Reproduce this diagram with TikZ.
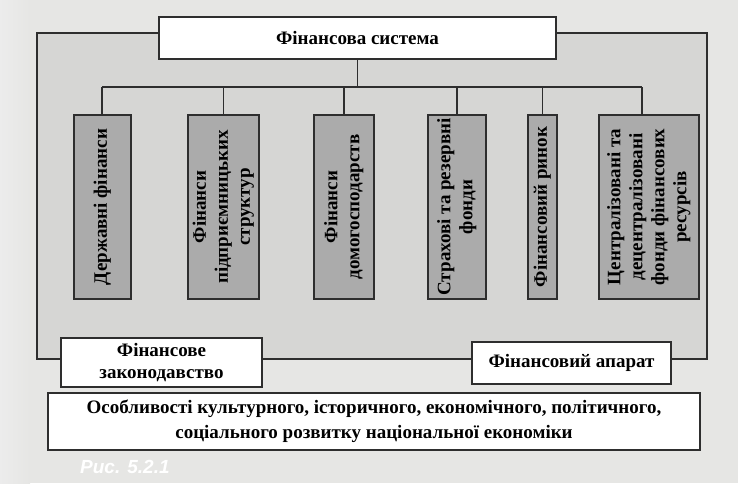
\documentclass[tikz,border=0pt]{standalone}
\usepackage{fontspec}
\usepackage{graphicx}
\setmainfont{Liberation Serif}
\newfontfamily\capfont{Liberation Sans}
\definecolor{pagebg}{HTML}{E6E6E4}
\definecolor{outerbg}{HTML}{D6D6D4}
\definecolor{colbg}{HTML}{ABABAB}
\definecolor{ink}{HTML}{2E2E2E}
\tikzset{
  every node/.style={font=\bfseries\fontsize{19}{22}\selectfont},
  whitebox/.style={draw=ink, line width=1.2pt, fill=white, inner sep=0pt, align=center},
  colbox/.style={draw=ink, line width=1.2pt, fill=colbg, inner sep=0pt, minimum height=184pt},
  conn/.style={draw=ink, line width=1.2pt},
}
\newcommand{\vtext}[1]{\rotatebox{90}{\begin{tabular}{@{}c@{}}#1\end{tabular}}}
\begin{document}
\begin{tikzpicture}[x=1pt,y=-1pt]
\useasboundingbox (0,0) rectangle (738,483);
\fill[pagebg] (0,0) rectangle (738,483);
\shade[left color=white!85!gray, right color=pagebg] (0,0) rectangle (30,483);
% outer region
\node[draw=ink, line width=1.2pt, fill=outerbg, minimum width=670pt, minimum height=326pt, inner sep=0pt] (outer) at (372,196) {};
% top box
\node[whitebox, minimum width=397pt, minimum height=42pt] (top) at (357.5,38) {Фінансова система};
% bus
\coordinate (busL) at (102,87);
\coordinate (busR) at (642,87);
\draw[conn] (busL) -- (busR);
\draw[conn] (top.south) -- (top.south |- busL);
% column boxes
\node[colbox, minimum width=57pt] (b1) at (102.5,207) {\vtext{Державні фінанси}};
\node[colbox, minimum width=71pt] (b2) at (223.5,207) {\vtext{Фінанси\\підприємницьких\\структур}};
\node[colbox, minimum width=60pt] (b3) at (344,207) {\vtext{Фінанси\\домогосподарств}};
\node[colbox, minimum width=58pt] (b4) at (457,207) {\vtext{Страхові та резервні\\фонди}};
\node[colbox, minimum width=29pt] (b5) at (542.5,207) {\vtext{Фінансовий ринок}};
\node[colbox, minimum width=100pt] (b6) at (649,207) {\vtext{Централізовані та\\децентралізовані\\фонди фінансових\\ресурсів}};
\draw[conn] (busL) -- (busL |- b1.north);
\draw[conn] (b2.north) -- (b2.north |- busL);
\draw[conn] (b3.north) -- (b3.north |- busL);
\draw[conn] (b4.north) -- (b4.north |- busL);
\draw[conn] (b5.north) -- (b5.north |- busL);
\draw[conn] (busR) -- (busR |- b6.north);
% lower boxes
\node[whitebox, minimum width=201pt, minimum height=49pt] (law) at (161.5,362.5) {Фінансове\\законодавство};
\node[whitebox, minimum width=199pt, minimum height=42pt] (app) at (571.5,363) {Фінансовий апарат};
\node[whitebox, minimum width=652pt, minimum height=57pt, font=\bfseries\fontsize{19}{25}\selectfont] (base) at (374,421.5) {Особливості культурного, історичного, економічного, політичного,\\соціального розвитку національної економіки};
% caption
\node[anchor=west, inner sep=0pt, text=white, font=\capfont\bfseries\itshape\fontsize{19}{20}\selectfont] (cap) at (80,467) {Рис. 5.2.1};
\end{tikzpicture}
\end{document}
